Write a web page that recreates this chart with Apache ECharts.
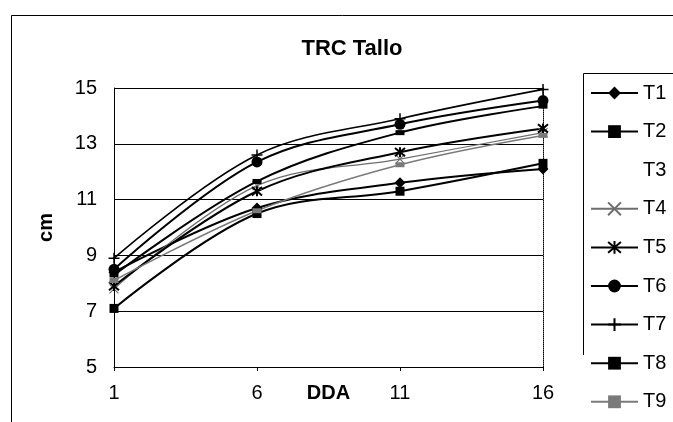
<!DOCTYPE html>
<html>
<head>
<meta charset="utf-8">
<script src="https://cdn.jsdelivr.net/npm/echarts@6/dist/echarts.min.js"></script>
<style>
  html, body { margin: 0; padding: 0; background: #fff; }
  #chart { width: 673px; height: 422px; }
</style>
</head>
<body>
<div id="chart"></div>
<script>
// Días después de la aplicación (DDA)
const days = ['1', '6', '11', '16'];

// Altura del tallo (cm) por tratamiento
const t1 = [8.4, 10.7, 11.6, 12.1];
const t2 = [7.1, 10.5, 11.3, 12.3];
const t3 = [null, null, null, null];
const t4 = [7.8, 11.5, 12.45, 13.4];
const t5 = [7.9, 11.3, 12.7, 13.55];
const t6 = [8.5, 12.35, 13.7, 14.55];
const t7 = [8.9, 12.6, 13.9, 14.95];
const t8 = [8.3, 11.65, 13.4, 14.35];
const t9 = [8.1, 10.6, 12.25, 13.3];

const FONT = '"Liberation Sans", Arial, sans-serif';

const xMark = 'path://M0,0L10,10M10,0L0,10';
const starMark = 'path://M0,0L10,10M10,0L0,10M5,-1L5,11';
const plusMark = 'path://M5,0L5,10M0,5L10,5';

function line(name, data, opts) {
  const color = opts.color || '#000';
  return {
    name: name,
    type: 'line',
    data: data,
    smooth: 0.35,
    symbol: opts.symbol,
    symbolSize: opts.size,
    showSymbol: true,
    color: color,
    lineStyle: { color: color, width: opts.width || 2, type: opts.dash || 'solid' },
    itemStyle: { color: opts.fill || color, borderColor: color, borderWidth: opts.border || 0 },
    emphasis: { disabled: true },
    z: opts.z || 2
  };
}

const series = [
  line('T1', t1, { symbol: 'diamond', size: 11 }),
  line('T2', t2, { symbol: 'rect', size: 9 }),
  line('T3', t3, { symbol: 'none', size: 0, color: '#ffffff', width: 1 }),
  line('T4', t4, { symbol: xMark, size: 9, color: '#6e6e6e', width: 1.2, border: 1.2, fill: 'none' }),
  line('T5', t5, { symbol: starMark, size: 10, border: 2, fill: 'none' }),
  line('T6', t6, { symbol: 'circle', size: 11 }),
  line('T7', t7, { symbol: plusMark, size: 11, width: 1.6, border: 1.5, fill: 'none' }),
  line('T8', t8, { symbol: 'rect', size: [9, 5] }),
  line('T9', t9, { symbol: 'rect', size: [9, 5], color: '#7a7a7a', width: 1.5 })
];

const legendData = ['T1', 'T2', { name: 'T3', icon: 'none' }, 'T4', 'T5', 'T6', 'T7', 'T8', 'T9'];

const chart = echarts.init(document.getElementById('chart'), null, { renderer: 'canvas' });

chart.setOption({
  backgroundColor: '#ffffff',
  animation: false,
  textStyle: { fontFamily: FONT },
  title: {
    text: 'TRC Tallo',
    left: 347,
    textAlign: 'center',
    top: 33,
    textStyle: { fontFamily: FONT, fontSize: 22, fontWeight: 'bold', color: '#000' }
  },
  legend: {
    data: legendData,
    orient: 'vertical',
    left: 590,
    top: 83,
    height: 339,
    padding: 0,
    itemWidth: 47,
    itemHeight: 16,
    itemGap: 18.6,
    selectedMode: false,
    textStyle: { fontFamily: FONT, fontSize: 20, color: '#000', lineHeight: 20, padding: [0, 0, 0, 0] }
  },
  graphic: [
    {
      type: 'rect',
      left: 9,
      top: 13,
      shape: { width: 700, height: 450 },
      style: { fill: 'none', stroke: '#000', lineWidth: 1 },
      silent: true
    },
    {
      // legend frame: left and top edges
      type: 'polyline',
      shape: { points: [[583.5, 355], [583.5, 73.5], [673, 73.5]] },
      style: { fill: 'none', stroke: '#000', lineWidth: 1 },
      silent: true
    }
  ],
  grid: { left: 114, right: 130, top: 88, bottom: 55 },
  xAxis: {
    type: 'category',
    data: days,
    boundaryGap: false,
    name: 'DDA',
    nameLocation: 'middle',
    nameGap: 16,
    nameMoveOverlap: false,
    nameTextStyle: { fontFamily: FONT, fontSize: 20, fontWeight: 'bold', color: '#000', verticalAlign: 'top' },
    axisLine: { lineStyle: { color: '#000', width: 1 } },
    axisTick: { show: true, length: 4, lineStyle: { color: '#000' } },
    axisLabel: { margin: 16, fontFamily: FONT, fontSize: 20, color: '#000', verticalAlign: 'top' },
    splitLine: { show: false }
  },
  yAxis: [
    {
      type: 'value',
      min: 5,
      max: 15,
      interval: 1,
      name: 'cm',
      nameLocation: 'middle',
      nameGap: 58,
      nameRotate: 90,
      nameTextStyle: { fontFamily: FONT, fontSize: 20, fontWeight: 'bold', color: '#000' },
      axisLine: { show: true, lineStyle: { color: '#000', width: 1 } },
      axisTick: { show: false },
      axisLabel: {
        margin: 17,
        fontFamily: FONT,
        fontSize: 20,
        color: '#000',
        formatter: function (v) { return (v % 2 === 1) ? String(v) : ''; }
      },
      splitLine: { show: true, lineStyle: { color: ['#000', 'rgba(0,0,0,0)'], width: 1 } }
    },
    {
      type: 'value',
      min: 5,
      max: 15,
      interval: 1,
      position: 'right',
      axisLine: { show: true, lineStyle: { color: '#000', width: 1, type: 'dotted' } },
      axisTick: { show: false },
      axisLabel: { show: false },
      splitLine: { show: false }
    }
  ],
  series: series
});
</script>
</body>
</html>
